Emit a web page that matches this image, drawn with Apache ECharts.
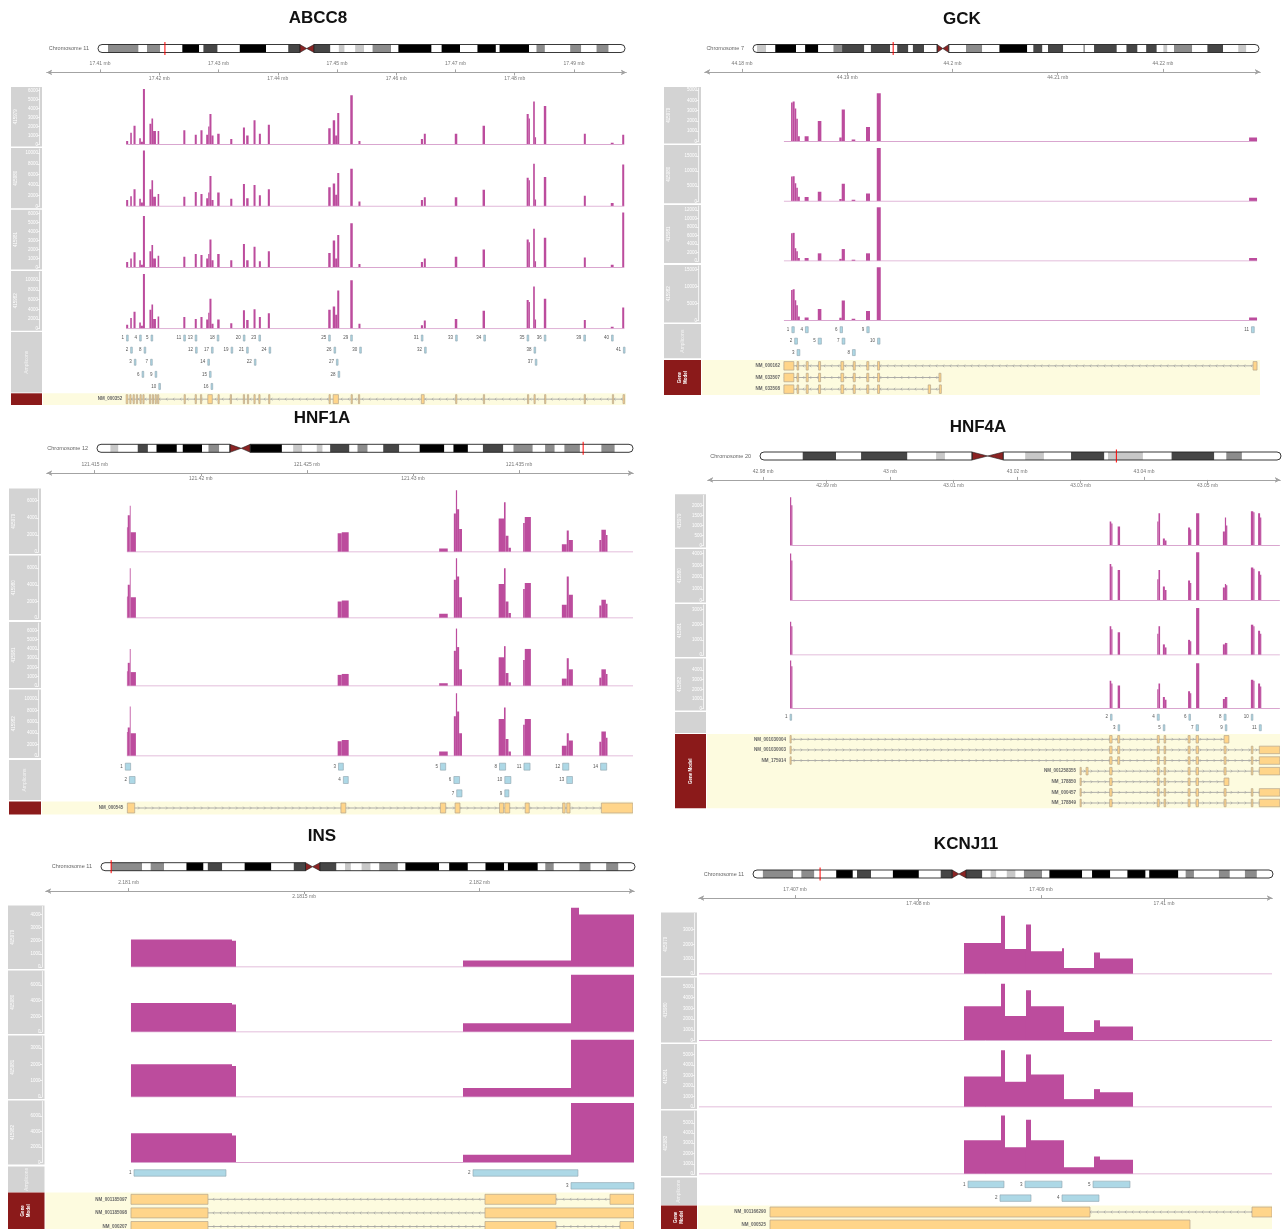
<!DOCTYPE html>
<html>
<head>
<meta charset="utf-8">
<script src="https://cdn.jsdelivr.net/npm/echarts@6/dist/echarts.min.js"></script>
<style>
  html, body { margin: 0; padding: 0; background: #fff; }
  #chart { width: 1287px; height: 1229px; }
</style>
</head>
<body>
<div id="chart"></div>
<script>
// ---------- shared ----------
const sampleNames = ['415979', '415980', '415981', '415982'];

// ideogram bands: edges in % of chromosome length, stain code per band
// 0 gneg, 1 gpos25, 2 gpos50, 3 gpos75, 4 gpos100, 5 acen (p side), 6 acen (q side)
const chr11Edges = [0, 1.9, 7.7, 9.3, 11.8, 16.0, 19.2, 20.0, 22.7, 26.9, 31.9, 36.1, 38.3, 39.6, 41.0, 44.1, 45.7, 46.8, 48.8, 50.5, 52.1, 55.6, 57.0, 63.3, 65.2, 68.7, 72.0, 75.5, 76.2, 81.8, 83.2, 84.8, 89.6, 91.7, 94.6, 96.9, 100];
const chr11Stain = [0, 2, 0, 2, 0, 4, 0, 3, 0, 4, 0, 3, 5, 6, 3, 0, 1, 0, 1, 0, 2, 0, 4, 0, 4, 0, 4, 0, 4, 0, 2, 0, 2, 0, 2, 0];
const chr7Edges = [0, 0.8, 2.6, 4.4, 8.5, 10.3, 12.9, 15.9, 17.6, 22.0, 23.3, 27.1, 28.5, 30.7, 31.6, 33.8, 36.4, 37.5, 38.7, 42.1, 45.3, 48.7, 54.2, 55.4, 57.2, 58.3, 61.3, 65.3, 65.6, 67.4, 71.9, 73.8, 76.0, 77.7, 79.8, 81.1, 81.9, 83.2, 86.8, 89.8, 92.9, 95.9, 97.5, 100];
const chr7Stain = [0, 1, 0, 4, 0, 4, 0, 2, 3, 0, 3, 0, 3, 0, 3, 0, 5, 6, 0, 2, 0, 4, 0, 3, 0, 3, 0, 2, 0, 3, 0, 3, 0, 3, 0, 1, 0, 2, 0, 3, 0, 1, 0];
const chr12Edges = [0, 2.5, 4.0, 7.6, 9.5, 11.1, 14.9, 16.0, 19.6, 20.8, 22.8, 24.8, 26.9, 28.6, 34.5, 36.6, 38.3, 41.0, 42.1, 43.5, 47.1, 48.6, 50.5, 53.4, 56.4, 60.2, 64.8, 66.5, 69.2, 72.0, 75.8, 77.7, 81.3, 83.6, 85.4, 87.2, 90.1, 94.1, 96.6, 100];
const chr12Stain = [0, 1, 0, 3, 0, 4, 0, 4, 0, 2, 0, 5, 6, 4, 0, 1, 0, 1, 0, 3, 0, 2, 0, 3, 0, 4, 0, 4, 0, 3, 0, 2, 0, 2, 0, 2, 0, 2, 0];
const chr20Edges = [0, 8.2, 14.6, 19.4, 28.3, 33.8, 35.5, 40.7, 43.7, 46.7, 50.9, 54.5, 59.7, 66.1, 66.8, 73.5, 79.0, 87.2, 89.5, 92.5, 100];
const chr20Stain = [0, 3, 0, 3, 0, 1, 0, 5, 6, 0, 1, 0, 3, 0, 1, 0, 3, 0, 2, 0];

// ---------- ABCC8 (positions in kb) ----------
const abcc8Start = [17414.41, 17415.10, 17415.65, 17416.62, 17416.89, 17417.24, 17418.34, 17418.68, 17418.96, 17419.72, 17424.06, 17425.99, 17426.95, 17427.92, 17428.26, 17428.47, 17428.81, 17429.78, 17431.98, 17434.12, 17434.67, 17435.91, 17436.81, 17438.32, 17448.52, 17449.28, 17449.69, 17450.04, 17452.24, 17453.62, 17464.16, 17464.65, 17469.88, 17474.57, 17482.01, 17482.36, 17483.11, 17483.39, 17484.91, 17491.66, 17496.21, 17498.14];
const abcc8End = [17414.75, 17415.37, 17416.00, 17416.89, 17417.24, 17417.58, 17418.68, 17418.96, 17419.44, 17419.99, 17424.40, 17426.33, 17427.30, 17428.26, 17428.47, 17428.81, 17429.16, 17430.19, 17432.33, 17434.46, 17435.08, 17436.25, 17437.15, 17438.67, 17448.93, 17449.69, 17450.04, 17450.38, 17452.66, 17453.96, 17464.51, 17464.99, 17470.30, 17474.98, 17482.36, 17482.56, 17483.39, 17483.60, 17485.32, 17492.00, 17496.69, 17498.48];
const abcc8Cov1 = [400, 1300, 2100, 700, 300, 6200, 2300, 2900, 1500, 1500, 1600, 1100, 1600, 1100, 2000, 3400, 1000, 1200, 600, 1900, 1000, 2700, 1200, 2200, 1800, 2700, 1000, 3500, 5500, 400, 600, 1200, 1200, 2100, 3400, 2900, 4800, 800, 4300, 1200, 200, 1100];
const abcc8Cov2 = [1200, 1900, 3200, 1400, 700, 10500, 3200, 4900, 1800, 2300, 1800, 2700, 2300, 1500, 2600, 5700, 1200, 2600, 1400, 4200, 1500, 4000, 2100, 3200, 3600, 4300, 2200, 6300, 7100, 900, 1200, 1700, 1700, 3100, 5400, 4900, 8000, 1300, 5500, 2000, 600, 7900];
const abcc8Cov3 = [600, 1000, 1700, 800, 300, 5700, 1800, 2500, 1000, 1300, 1200, 1500, 1400, 1000, 1500, 3100, 800, 1500, 800, 2600, 800, 2300, 700, 1800, 1600, 3000, 1000, 3600, 4900, 400, 600, 1000, 1200, 2000, 3100, 2800, 4300, 700, 3300, 1100, 300, 6100];
const abcc8Cov4 = [800, 2200, 3500, 1300, 600, 11300, 3900, 5000, 2000, 2500, 2400, 2000, 2400, 1900, 3300, 6200, 1000, 1900, 1100, 3800, 1800, 4000, 2400, 3200, 3900, 4600, 2900, 7900, 10000, 1000, 700, 1700, 2000, 3700, 5900, 5500, 8700, 1900, 6200, 1800, 400, 4400];
const abcc8Base = [17414.41, 17498.48];
// amplicons 1..41
const abcc8AmpStart = [17414.48, 17415.17, 17415.79, 17416.68, 17418.61, 17417.10, 17418.54, 17417.44, 17419.30, 17419.92, 17424.13, 17426.12, 17426.06, 17428.19, 17428.47, 17428.74, 17428.81, 17429.78, 17432.12, 17434.19, 17434.74, 17436.05, 17436.81, 17438.53, 17448.59, 17449.49, 17449.90, 17450.18, 17452.31, 17453.83, 17464.23, 17464.78, 17470.02, 17474.78, 17482.08, 17484.98, 17483.46, 17483.25, 17491.66, 17496.34, 17498.34];
const abcc8AmpEnd = [17414.76, 17415.45, 17416.07, 17416.96, 17418.89, 17417.38, 17418.82, 17417.72, 17419.58, 17420.20, 17424.41, 17426.40, 17426.34, 17428.47, 17428.75, 17429.02, 17429.09, 17430.06, 17432.40, 17434.47, 17435.02, 17436.33, 17437.09, 17438.81, 17448.87, 17449.77, 17450.18, 17450.46, 17452.59, 17454.11, 17464.51, 17465.06, 17470.30, 17475.06, 17482.36, 17485.26, 17483.74, 17483.53, 17491.94, 17496.62, 17498.62];
const abcc8AmpRow = [0, 1, 2, 0, 0, 3, 2, 1, 3, 4, 0, 1, 0, 2, 3, 4, 1, 0, 1, 0, 1, 2, 0, 1, 0, 1, 2, 3, 0, 1, 0, 1, 0, 0, 0, 0, 2, 1, 0, 0, 1];
const abcc8TxNames = ['NM_000352'];
const abcc8ExStart = [[17414.410, 17415.030, 17415.582, 17416.133, 17416.753, 17417.236, 17418.338, 17418.820, 17419.303, 17419.716, 17424.195, 17426.056, 17426.952, 17428.192, 17429.915, 17431.982, 17434.187, 17434.877, 17435.979, 17436.806, 17438.460, 17448.659, 17449.348, 17452.380, 17453.620, 17464.232, 17470.021, 17474.707, 17482.149, 17483.252, 17485.043, 17491.727, 17496.482, 17498.274]];
const abcc8ExEnd = [[17414.686, 17415.237, 17415.788, 17416.340, 17416.960, 17417.442, 17418.545, 17419.027, 17419.510, 17419.923, 17424.402, 17426.263, 17427.159, 17428.950, 17430.122, 17432.189, 17434.394, 17435.083, 17436.186, 17437.013, 17438.667, 17448.866, 17450.244, 17452.587, 17453.827, 17464.715, 17470.228, 17474.913, 17482.356, 17483.458, 17485.250, 17491.934, 17496.689, 17498.549]];
const abcc8TicksTop = [17410, 17430, 17450, 17470, 17490];
const abcc8TicksBottom = [17420, 17440, 17460, 17480];
const abcc8YTicks = [[0, 1000, 2000, 3000, 4000, 5000, 6000], [0, 2000, 4000, 6000, 8000, 10000], [0, 1000, 2000, 3000, 4000, 5000, 6000], [0, 2000, 4000, 6000, 8000, 10000]];
const abcc8YMax = [6300, 10800, 6300, 11700];

// ---------- GCK ----------
const gckStart = [44184.659, 44184.811, 44185.000, 44185.152, 44185.303, 44185.947, 44187.197, 44189.242, 44189.470, 44190.417, 44191.780, 44192.803, 44228.182];
const gckEnd = [44184.811, 44185.000, 44185.152, 44185.303, 44185.492, 44186.326, 44187.538, 44189.470, 44189.773, 44190.758, 44192.159, 44193.182, 44228.939];
const gckCov1 = [3800, 3900, 3200, 2200, 500, 500, 2000, 400, 3100, 200, 1400, 4700, 400];
const gckCov2 = [8200, 8300, 6000, 4500, 1500, 1400, 3200, 800, 5800, 500, 2600, 17600, 1200];
const gckCov3 = [6500, 6600, 3000, 2300, 700, 700, 1800, 500, 2800, 300, 1800, 12600, 700];
const gckCov4 = [9000, 9200, 6000, 4500, 1200, 900, 3400, 800, 5900, 500, 2800, 15700, 900];
const gckBase = [44183.98, 44228.94];
const gckAmpStart = [44184.735, 44185.000, 44185.227, 44186.023, 44187.235, 44189.318, 44189.508, 44190.492, 44191.856, 44192.879, 44228.409];
const gckAmpEnd = [44184.962, 44185.265, 44185.492, 44186.288, 44187.538, 44189.545, 44189.773, 44190.758, 44192.083, 44193.106, 44228.674];
const gckAmpRow = [0, 1, 2, 0, 1, 0, 1, 2, 0, 1, 0];
const gckTxNames = ['NM_000162', 'NM_033507', 'NM_033508'];
const gckExStart = [
  [44183.977, 44185.227, 44186.098, 44187.273, 44189.394, 44190.568, 44191.856, 44192.879, 44228.561],
  [44183.977, 44185.227, 44186.098, 44187.273, 44189.394, 44190.568, 44191.856, 44192.879, 44198.712],
  [44183.977, 44185.227, 44186.098, 44187.273, 44189.394, 44190.568, 44191.856, 44192.879, 44197.689, 44198.750]
];
const gckExEnd = [
  [44184.924, 44185.379, 44186.288, 44187.462, 44189.659, 44190.758, 44192.045, 44193.068, 44228.939],
  [44184.924, 44185.379, 44186.288, 44187.462, 44189.659, 44190.758, 44192.045, 44193.068, 44198.902],
  [44184.924, 44185.379, 44186.288, 44187.462, 44189.659, 44190.758, 44192.045, 44193.068, 44197.917, 44198.939]
];
const gckTicksTop = [44180, 44200, 44220];
const gckTicksBottom = [44190, 44210];
const gckYTicks = [[0, 1000, 2000, 3000, 4000, 5000], [0, 5000, 10000, 15000], [0, 2000, 4000, 6000, 8000, 10000, 12000], [0, 5000, 10000, 15000]];
const gckYMax = [5200, 18300, 12900, 16100];

// ---------- HNF1A ----------
const hnf1aStart = [121416.518, 121416.556, 121416.652, 121416.691, 121426.450, 121426.642, 121431.234, 121431.926, 121432.022, 121432.079, 121432.175, 121434.039, 121434.289, 121434.365, 121434.500, 121435.192, 121435.269, 121437.017, 121437.247, 121437.343, 121438.784, 121438.880, 121439.092];
const hnf1aEnd = [121416.556, 121416.652, 121416.691, 121416.940, 121426.642, 121426.969, 121431.638, 121432.022, 121432.079, 121432.175, 121432.310, 121434.289, 121434.365, 121434.500, 121434.615, 121435.269, 121435.557, 121437.247, 121437.343, 121437.536, 121438.880, 121439.092, 121439.168];
const hnf1aCov1 = [2900, 4300, 5400, 2300, 2200, 2300, 400, 4500, 7200, 5000, 2700, 3900, 5800, 1900, 500, 3400, 4100, 900, 2500, 1400, 1400, 2600, 2000];
const hnf1aCov2 = [2600, 4000, 6000, 2500, 2000, 2100, 500, 4600, 7200, 5000, 2500, 4100, 6000, 2000, 600, 3500, 4200, 1600, 5000, 2800, 1500, 2200, 1700];
const hnf1aCov3 = [1600, 2500, 4000, 1500, 1200, 1300, 300, 3800, 6200, 4200, 1800, 3100, 4300, 1400, 400, 2800, 4000, 800, 3000, 1800, 900, 1800, 1300];
const hnf1aCov4 = [4200, 5000, 8700, 4000, 2600, 2800, 800, 7000, 11000, 7800, 4000, 6500, 8500, 3000, 800, 5500, 6500, 1800, 4000, 2700, 2500, 4300, 3200];
const hnf1aBase = [121416.518, 121440.37];
const hnf1aAmpStart = [121416.441, 121416.633, 121426.489, 121426.719, 121431.292, 121431.926, 121432.060, 121434.078, 121434.327, 121434.327, 121435.230, 121437.055, 121437.247, 121438.842];
const hnf1aAmpEnd = [121416.691, 121416.902, 121426.719, 121426.950, 121431.542, 121432.195, 121432.310, 121434.366, 121434.519, 121434.615, 121435.518, 121437.344, 121437.517, 121439.130];
const hnf1aAmpRow = [0, 1, 0, 1, 0, 1, 2, 0, 2, 1, 0, 0, 1, 0];
const hnf1aTxNames = ['NM_000545'];
const hnf1aExStart = [[121416.537, 121426.604, 121431.292, 121431.984, 121434.078, 121434.327, 121435.288, 121437.055, 121437.247, 121438.880]];
const hnf1aExEnd = [[121416.883, 121426.834, 121431.542, 121432.214, 121434.270, 121434.558, 121435.480, 121437.171, 121437.402, 121440.360]];
const hnf1aTicksTop = [121415, 121425, 121435];
const hnf1aTicksBottom = [121420, 121430];
const hnf1aYTicks = [[0, 2000, 4000, 6000], [0, 2000, 4000, 6000], [0, 1000, 2000, 3000, 4000, 5000, 6000], [0, 2000, 4000, 6000, 8000, 10000]];
const hnf1aYMax = [7300, 7400, 6800, 11500];

// ---------- HNF4A ----------
const hnf4aStart = [42984.223, 42984.412, 43034.584, 43034.836, 43035.845, 43042.085, 43042.274, 43042.967, 43043.282, 43046.938, 43047.253, 43048.198, 43052.421, 43052.737, 43052.926, 43056.834, 43057.212, 43057.968, 43058.283];
const hnf4aEnd = [42984.412, 42984.601, 43034.836, 43035.025, 43036.223, 43042.274, 43042.526, 43043.282, 43043.534, 43047.253, 43047.442, 43048.703, 43052.737, 43052.926, 43053.115, 43057.212, 43057.401, 43058.283, 43058.472];
const hnf4aCov1 = [2400, 2000, 1200, 1100, 950, 1200, 1600, 350, 250, 900, 800, 1600, 700, 1400, 1000, 1700, 1650, 1600, 1400];
const hnf4aCov2 = [4000, 3400, 3100, 2900, 2600, 1800, 2600, 1200, 900, 1700, 1500, 4100, 1100, 1400, 1300, 2800, 2700, 2500, 2200];
const hnf4aCov3 = [2200, 1900, 1900, 1700, 1500, 1400, 1900, 700, 500, 1000, 900, 3100, 700, 800, 800, 2000, 1900, 1600, 1400];
const hnf4aCov4 = [5000, 4400, 2900, 2600, 2400, 2000, 2600, 1200, 900, 1800, 1600, 4700, 1000, 1200, 1200, 3000, 2900, 2600, 2300];
const hnf4aBase = [42984.22, 43061.40];
const hnf4aAmpStart = [42984.223, 43034.710, 43035.908, 43042.085, 43043.030, 43047.064, 43048.198, 43052.611, 43052.800, 43056.897, 43058.157];
const hnf4aAmpEnd = [42984.412, 43034.962, 43036.160, 43042.400, 43043.282, 43047.316, 43048.577, 43052.926, 43053.052, 43057.149, 43058.472];
const hnf4aAmpRow = [0, 0, 1, 0, 1, 0, 1, 0, 1, 0, 1];
const hnf4aTxNames = ['NM_001030004', 'NM_001030003', 'NM_175914', 'NM_001258355', 'NM_178850', 'NM_000457', 'NM_178849'];
const hnf4aExStart = [
  [42984.223, 43034.584, 43035.845, 43042.085, 43043.156, 43046.938, 43048.198, 43052.611],
  [42984.223, 43034.584, 43035.845, 43042.085, 43043.156, 43046.938, 43048.198, 43052.611, 43056.897, 43058.157],
  [42984.223, 43034.584, 43035.845, 43042.085, 43043.156, 43046.938, 43048.198, 43052.611, 43056.897, 43058.157],
  [43029.920, 43030.865, 43034.584, 43042.085, 43043.156, 43046.938, 43048.198, 43052.611, 43056.897, 43058.157],
  [43029.920, 43034.584, 43042.085, 43043.156, 43046.938, 43048.198, 43052.611],
  [43029.920, 43034.584, 43042.085, 43043.156, 43046.938, 43048.198, 43052.611, 43056.897, 43058.157],
  [43029.920, 43034.584, 43042.085, 43043.156, 43046.938, 43048.198, 43052.611, 43056.897, 43058.157]
];
const hnf4aExEnd = [
  [42984.412, 43034.962, 43036.160, 43042.400, 43043.408, 43047.253, 43048.577, 43053.367],
  [42984.412, 43034.962, 43036.160, 43042.400, 43043.408, 43047.253, 43048.577, 43052.926, 43057.149, 43061.400],
  [42984.412, 43034.962, 43036.160, 43042.400, 43043.408, 43047.253, 43048.577, 43052.926, 43057.149, 43061.400],
  [43030.109, 43031.180, 43034.962, 43042.400, 43043.408, 43047.253, 43048.577, 43052.926, 43057.149, 43061.400],
  [43030.109, 43034.962, 43042.400, 43043.408, 43047.253, 43048.577, 43053.367],
  [43030.109, 43034.962, 43042.400, 43043.408, 43047.253, 43048.577, 43052.926, 43057.149, 43061.400],
  [43030.109, 43034.962, 43042.400, 43043.408, 43047.253, 43048.577, 43052.926, 43057.149, 43061.400]
];
const hnf4aTicksTop = [42980, 43000, 43020, 43040];
const hnf4aTicksBottom = [42990, 43010, 43030, 43050];
const hnf4aYTicks = [[0, 500, 1000, 1500, 2000], [0, 1000, 2000, 3000, 4000], [0, 1000, 2000, 3000], [0, 1000, 2000, 3000, 4000]];
const hnf4aYMax = [2500, 4300, 3300, 5100];

// ---------- INS ----------
const insStart = [2181.0068, 2181.2946, 2181.9527, 2182.2604, 2182.2832];
const insEnd = [2181.2946, 2181.3060, 2182.2604, 2182.2832, 2182.4399];
const insCov1 = [2100, 2000, 500, 4500, 4000];
const insCov2 = [3700, 3500, 1100, 7300, 7300];
const insCov3 = [2000, 1900, 550, 3500, 3500];
const insCov4 = [3800, 3500, 1000, 7700, 7700];
const insBase = [2181.0068, 2182.4399];
const insAmpStart = [2181.0154, 2181.9812, 2182.2604];
const insAmpEnd = [2181.2775, 2182.2803, 2182.4399];
const insAmpRow = [0, 0, 1];
const insTxNames = ['NM_001185097', 'NM_001185098', 'NM_000207'];
const insExStart = [[2181.0068, 2182.0154, 2182.3715], [2181.0068, 2182.0154], [2181.0068, 2182.0154, 2182.4000]];
const insExEnd = [[2181.2262, 2182.2177, 2182.4399], [2181.2262, 2182.4399], [2181.2262, 2182.2177, 2182.4399]];
const insTicksTop = [2181, 2182];
const insTicksBottom = [2181.5];
const insYTicks = [[0, 1000, 2000, 3000, 4000], [0, 2000, 4000, 6000], [0, 1000, 2000, 3000], [0, 2000, 4000, 6000]];
const insYMax = [4600, 7700, 3700, 7900];

// ---------- KCNJ11 ----------
const kcnj11Start = [17408.3740, 17408.6748, 17408.7073, 17408.8780, 17408.9187, 17409.1707, 17409.1870, 17409.4309, 17409.4797];
const kcnj11End = [17408.6748, 17408.7073, 17408.8780, 17408.9187, 17409.1707, 17409.1870, 17409.4309, 17409.4797, 17409.7480];
const kcnj11Cov1 = [2100, 3950, 1700, 3350, 1550, 1750, 400, 1450, 1050];
const kcnj11Cov2 = [3200, 5300, 2300, 4700, 3200, 3200, 800, 1900, 1300];
const kcnj11Cov3 = [2900, 5400, 2400, 5000, 3100, 3100, 750, 1700, 1400];
const kcnj11Cov4 = [3300, 5700, 2600, 5300, 3300, 3300, 650, 1700, 1400];
const kcnj11Base = [17406.2195, 17410.878];
const kcnj11AmpStart = [17408.4065, 17408.6667, 17408.8699, 17409.1707, 17409.4228];
const kcnj11AmpEnd = [17408.6992, 17408.9187, 17409.1707, 17409.4715, 17409.7236];
const kcnj11AmpRow = [0, 1, 0, 1, 0];
const kcnj11TxNames = ['NM_001166290', 'NM_000525'];
const kcnj11ExStart = [[17406.7967, 17410.7154], [17406.7967]];
const kcnj11ExEnd = [[17409.3984, 17410.878], [17410.2114]];
const kcnj11TicksTop = [17407, 17409];
const kcnj11TicksBottom = [17408, 17410];
const kcnj11YTicks = [[0, 1000, 2000, 3000], [0, 1000, 2000, 3000, 4000, 5000], [0, 1000, 2000, 3000, 4000, 5000], [0, 1000, 2000, 3000, 4000, 5000]];
const kcnj11YMax = [4100, 5800, 5900, 6100];

// ---------- panel layout ----------
const panels = [
  { name: 'ABCC8', chr: 11, edges: chr11Edges, stain: chr11Stain, marker: 12.7, strand: -1,
    title: [318, 18], ideo: [98, 625, 48.5], axisY: 70, gray: [11, 42], data: [47, 626], range: [17401.05, 17498.78],
    cov: [[87, 146.5], [148, 208.3], [209.7, 269.5], [271, 330.7]], amp: [332, 392.5], gene: [393.3, 405],
    ampRows: 5, ampH: 6, exH: 9,
    start: abcc8Start, end: abcc8End, vals: [abcc8Cov1, abcc8Cov2, abcc8Cov3, abcc8Cov4], base: abcc8Base,
    ampStart: abcc8AmpStart, ampEnd: abcc8AmpEnd, ampRow: abcc8AmpRow,
    tx: abcc8TxNames, exStart: abcc8ExStart, exEnd: abcc8ExEnd,
    ticksTop: abcc8TicksTop, ticksBottom: abcc8TicksBottom, yTicks: abcc8YTicks, yMax: abcc8YMax },
  { name: 'GCK', chr: 7, edges: chr7Edges, stain: chr7Stain, marker: 27.7, strand: -1,
    title: [962, 19], ideo: [753, 1259, 48.5], axisY: 69.5, gray: [664, 701], data: [705, 1260], range: [44176.48, 44229.22],
    cov: [[87, 143.5], [145, 203.3], [205, 263], [265, 322.5]], amp: [324, 358.3], gene: [360, 395],
    ampRows: 3, ampH: 6, exH: 8.5,
    start: gckStart, end: gckEnd, vals: [gckCov1, gckCov2, gckCov3, gckCov4], base: gckBase,
    ampStart: gckAmpStart, ampEnd: gckAmpEnd, ampRow: gckAmpRow,
    tx: gckTxNames, exStart: gckExStart, exEnd: gckExEnd,
    ticksTop: gckTicksTop, ticksBottom: gckTicksBottom, yTicks: gckYTicks, yMax: gckYMax },
  { name: 'HNF1A', chr: 12, edges: chr12Edges, stain: chr12Stain, marker: 90.7, strand: 1,
    title: [322, 418], ideo: [97, 633, 448.3], axisY: 470.7, gray: [9, 41], data: [47, 633], range: [121412.75, 121440.37],
    cov: [[488.5, 554], [555.5, 620], [622, 688], [689.5, 758]], amp: [760, 800], gene: [801.5, 814.5],
    ampRows: 3, ampH: 7, exH: 10,
    start: hnf1aStart, end: hnf1aEnd, vals: [hnf1aCov1, hnf1aCov2, hnf1aCov3, hnf1aCov4], base: hnf1aBase,
    ampStart: hnf1aAmpStart, ampEnd: hnf1aAmpEnd, ampRow: hnf1aAmpRow,
    tx: hnf1aTxNames, exStart: hnf1aExStart, exEnd: hnf1aExEnd,
    ticksTop: hnf1aTicksTop, ticksBottom: hnf1aTicksBottom, yTicks: hnf1aYTicks, yMax: hnf1aYMax },
  { name: 'HNF4A', chr: 20, edges: chr20Edges, stain: chr20Stain, marker: 68.4, strand: 1,
    title: [978, 427], ideo: [760, 1281, 456], axisY: 477.5, gray: [675, 706], data: [708, 1280], range: [42971.30, 43061.42],
    cov: [[494.3, 547.5], [549, 602.5], [604, 657], [658.5, 710.5]], amp: [712, 733], gene: [734, 808.3],
    ampRows: 2, ampH: 6, exH: 7.5,
    start: hnf4aStart, end: hnf4aEnd, vals: [hnf4aCov1, hnf4aCov2, hnf4aCov3, hnf4aCov4], base: hnf4aBase,
    ampStart: hnf4aAmpStart, ampEnd: hnf4aAmpEnd, ampRow: hnf4aAmpRow,
    tx: hnf4aTxNames, exStart: hnf4aExStart, exEnd: hnf4aExEnd,
    ticksTop: hnf4aTicksTop, ticksBottom: hnf4aTicksBottom, yTicks: hnf4aYTicks, yMax: hnf4aYMax },
  { name: 'INS', chr: 11, edges: chr11Edges, stain: chr11Stain, marker: 1.9, strand: -1,
    title: [322, 836], ideo: [101, 635, 866.7], axisY: 888.7, gray: [8, 44.5], data: [46, 634], range: [2180.7647, 2182.4399],
    cov: [[905.5, 969], [970.5, 1034], [1035.5, 1099], [1100.5, 1164.5]], amp: [1166.5, 1192.3], gene: [1192.5, 1233.3],
    ampRows: 2, ampH: 6.5, exH: 10,
    start: insStart, end: insEnd, vals: [insCov1, insCov2, insCov3, insCov4], base: insBase,
    ampStart: insAmpStart, ampEnd: insAmpEnd, ampRow: insAmpRow,
    tx: insTxNames, exStart: insExStart, exEnd: insExEnd,
    ticksTop: insTicksTop, ticksBottom: insTicksBottom, yTicks: insYTicks, yMax: insYMax },
  { name: 'KCNJ11', chr: 11, edges: chr11Edges, stain: chr11Stain, marker: 12.9, strand: -1,
    title: [966, 844], ideo: [753, 1273, 874], axisY: 895.7, gray: [661, 697], data: [699, 1272], range: [17406.2195, 17410.878],
    cov: [[912.5, 976], [977.5, 1042.5], [1044, 1109], [1110.5, 1176]], amp: [1177.5, 1205], gene: [1205.5, 1231.5],
    ampRows: 2, ampH: 6.5, exH: 10,
    start: kcnj11Start, end: kcnj11End, vals: [kcnj11Cov1, kcnj11Cov2, kcnj11Cov3, kcnj11Cov4], base: kcnj11Base,
    ampStart: kcnj11AmpStart, ampEnd: kcnj11AmpEnd, ampRow: kcnj11AmpRow,
    tx: kcnj11TxNames, exStart: kcnj11ExStart, exEnd: kcnj11ExEnd,
    ticksTop: kcnj11TicksTop, ticksBottom: kcnj11TicksBottom, yTicks: kcnj11YTicks, yMax: kcnj11YMax }
];

// ---------- styles ----------
const FONT = '"Liberation Sans", Arial, Helvetica, sans-serif';
const COV = '#bc4c9d';
const COV_BASE = '#d9a6cf';
const PANEL_GRAY = '#d3d3d3';
const GENE_RED = '#8b1a1a';
const GENE_BG = '#fdfbdf';
const EXON = '#ffd58a';
const EXON_EDGE = '#b5a58c';
const INTRON = '#9a9a9a';
const AMP = '#add8e6';
const AMP_EDGE = '#8fa3ad';
const AXIS_COL = '#a3a3a3';
const STAIN = ['#ffffff', '#c8c8c8', '#8c8c8c', '#464646', '#000000', '#8b2323', '#8b2323'];

const option = { animation: false, backgroundColor: '#fff', grid: [], xAxis: [], yAxis: [], series: [], graphic: { elements: [] } };
const G = option.graphic.elements;

// one grid with one hidden x axis; returns axis indices for series
function addGrid(left, right, top, bottom, xMin, xMax, yOpt) {
  const gi = option.grid.length;
  option.grid.push({ left: left, top: top, width: right - left, height: bottom - top, outerBoundsMode: 'none' });
  const xi = option.xAxis.length, yi = option.yAxis.length;
  option.xAxis.push({ gridIndex: gi, type: 'value', min: xMin, max: xMax, show: false });
  option.yAxis.push(Object.assign({ gridIndex: gi, type: 'value' }, yOpt));
  return { xAxisIndex: xi, yAxisIndex: yi };
}
const mbLabel = v => (+(v / 1000).toFixed(4)) + ' mb';

function addPanel(p) {
  // title and chromosome label
  G.push({ type: 'text', x: p.title[0], y: p.title[1], z: 10,
    style: { text: p.name, font: 'bold 17px ' + FONT, fill: '#111', textAlign: 'center', textVerticalAlign: 'middle' } });
  G.push({ type: 'text', x: p.ideo[0] - 9, y: p.ideo[2], z: 10,
    style: { text: 'Chromosome ' + p.chr, font: '5.5px ' + FONT, fill: '#666', textAlign: 'right', textVerticalAlign: 'middle' } });

  // ideogram
  let ax = addGrid(p.ideo[0], p.ideo[1], p.ideo[2] - 4, p.ideo[2] + 4, 0, 100, { min: 0, max: 1, show: false });
  const bands = p.stain.map((s, i) => [p.edges[i], p.edges[i + 1], s]);
  option.series.push(Object.assign({ type: 'custom', silent: true, data: bands,
    renderItem(params, api) {
      const a = api.coord([api.value(0), 1]), b = api.coord([api.value(1), 0]);
      const s = api.value(2), mid = (a[1] + b[1]) / 2;
      if (s === 5) return { type: 'polygon', shape: { points: [[a[0], a[1]], [b[0], mid], [a[0], b[1]]] }, style: { fill: STAIN[5], stroke: '#222', lineWidth: 0.6 } };
      if (s === 6) return { type: 'polygon', shape: { points: [[a[0], mid], [b[0], a[1]], [b[0], b[1]]] }, style: { fill: STAIN[6], stroke: '#222', lineWidth: 0.6 } };
      return { type: 'rect', shape: { x: a[0], y: a[1], width: b[0] - a[0], height: b[1] - a[1] }, style: { fill: STAIN[s] } };
    } }, ax));
  const cenS = p.edges[p.stain.indexOf(5)], cenE = p.edges[p.stain.indexOf(6) + 1];
  option.series.push(Object.assign({ type: 'custom', silent: true, data: [[0, cenS, 0], [cenE, 100, 1]],
    renderItem(params, api) {
      const a = api.coord([api.value(0), 1]), b = api.coord([api.value(1), 0]);
      const r = api.value(2) === 0 ? [4, 0, 0, 4] : [0, 4, 4, 0];
      return { type: 'rect', shape: { x: a[0], y: a[1], width: b[0] - a[0], height: b[1] - a[1], r: r },
        style: { fill: 'none', stroke: '#222', lineWidth: 0.9 } };
    } }, ax));
  option.series.push(Object.assign({ type: 'custom', silent: true, data: [[p.marker]],
    renderItem(params, api) {
      const a = api.coord([api.value(0), 1]), b = api.coord([api.value(0), 0]);
      return { type: 'line', shape: { x1: a[0], y1: a[1] - 2.5, x2: b[0], y2: b[1] + 2.5 }, style: { stroke: '#ff0000', lineWidth: 1 } };
    } }, ax));

  // genome axis: two x axes on one thin grid (labels above and below)
  const gi = option.grid.length;
  option.grid.push({ left: p.data[0], top: p.axisY, width: p.data[1] - p.data[0], height: 2.4, outerBoundsMode: 'none' });
  const line = { show: true, lineStyle: { color: AXIS_COL, width: 1.2 }, symbol: ['arrow', 'arrow'], symbolSize: [4, 5] };
  ['top', 'bottom'].forEach(pos => {
    const ticks = pos === 'top' ? p.ticksTop : p.ticksBottom;
    option.xAxis.push({ gridIndex: gi, type: 'value', min: p.range[0], max: p.range[1], position: pos,
      axisLine: line, splitLine: { show: false },
      axisTick: { show: true, customValues: ticks, length: 3, lineStyle: { color: AXIS_COL } },
      axisLabel: { show: true, customValues: ticks, formatter: mbLabel, fontSize: 5, color: '#777', margin: 3.5, fontFamily: FONT } });
  });
  option.yAxis.push({ gridIndex: gi, type: 'value', min: 0, max: 1, show: false });

  // coverage tracks
  p.cov.forEach((t, j) => {
    G.push({ type: 'rect', z: -5, shape: { x: p.gray[0], y: t[0], width: p.gray[1] - p.gray[0], height: t[1] - t[0] }, style: { fill: PANEL_GRAY } });
    G.push({ type: 'text', z: 10, x: p.gray[0] + 5, y: (t[0] + t[1]) / 2, rotation: Math.PI / 2,
      style: { text: sampleNames[j], font: '4.5px ' + FONT, fill: '#fff', textAlign: 'center', textVerticalAlign: 'middle' } });
    const cx = addGrid(p.data[0], p.data[1], t[0] + 1, t[1] - 2, p.range[0], p.range[1], {
      min: 0, max: p.yMax[j], position: 'left', offset: p.data[0] - (p.gray[1] - 2.5),
      axisLine: { show: true, lineStyle: { color: '#ffffff', width: 0.7 } },
      axisTick: { show: true, customValues: p.yTicks[j], length: 2, lineStyle: { color: '#ffffff', width: 0.7 } },
      axisLabel: { show: true, customValues: p.yTicks[j], formatter: v => String(v), fontSize: 4.5, color: '#ffffff', margin: 1.5, fontFamily: FONT },
      splitLine: { show: false } });
    option.series.push(Object.assign({ type: 'line', silent: true, symbol: 'none',
      data: [[p.base[0], 0], [p.base[1], 0]], lineStyle: { color: COV_BASE, width: 1 } }, cx));
    option.series.push(Object.assign({ type: 'custom', silent: true, clip: true,
      data: p.start.map((s, i) => [s, p.end[i], p.vals[j][i]]),
      renderItem(params, api) {
        const a = api.coord([api.value(0), api.value(2)]), b = api.coord([api.value(1), 0]);
        return { type: 'rect', shape: { x: a[0], y: a[1], width: Math.max(b[0] - a[0], 0.8), height: b[1] - a[1] }, style: { fill: COV } };
      } }, cx));
  });

  // amplicons
  G.push({ type: 'rect', z: -5, shape: { x: p.gray[0], y: p.amp[0], width: p.gray[1] - p.gray[0], height: p.amp[1] - p.amp[0] }, style: { fill: PANEL_GRAY } });
  if (p.amp[1] - p.amp[0] > 24) {
    G.push({ type: 'text', z: 10, x: (p.gray[0] + p.gray[1]) / 2, y: (p.amp[0] + p.amp[1]) / 2, rotation: Math.PI / 2,
      style: { text: 'Amplicons', font: '5px ' + FONT, fill: '#f4f4f4', textAlign: 'center', textVerticalAlign: 'middle' } });
  }
  ax = addGrid(p.data[0], p.data[1], p.amp[0], p.amp[1], p.range[0], p.range[1], { min: -0.5, max: p.ampRows - 0.5, inverse: true, show: false });
  const ampH = p.ampH;
  option.series.push(Object.assign({ type: 'custom', silent: true, clip: false,
    data: p.ampStart.map((s, i) => [s, p.ampEnd[i], p.ampRow[i], i + 1]),
    renderItem(params, api) {
      const a = api.coord([api.value(0), api.value(2)]), b = api.coord([api.value(1), api.value(2)]);
      return { type: 'group', children: [
        { type: 'rect', shape: { x: a[0], y: a[1] - ampH / 2, width: Math.max(b[0] - a[0], 1.6), height: ampH }, style: { fill: AMP, stroke: AMP_EDGE, lineWidth: 0.6 } },
        { type: 'text', style: { x: a[0] - 2.5, y: a[1], text: String(api.value(3)), font: '4.5px ' + FONT, fill: '#555', textAlign: 'right', textVerticalAlign: 'middle' } }
      ] };
    } }, ax));

  // gene model
  G.push({ type: 'rect', z: -5, shape: { x: p.gray[0], y: p.gene[0], width: p.gray[1] - p.gray[0], height: p.gene[1] - p.gene[0] }, style: { fill: GENE_RED } });
  G.push({ type: 'rect', z: -5, shape: { x: p.gray[1] + 1, y: p.gene[0], width: p.data[1] - p.gray[1] - 1, height: p.gene[1] - p.gene[0] }, style: { fill: GENE_BG } });
  const gh = Math.min(p.gene[1], 1229) - p.gene[0];
  if (gh > 20) {
    G.push({ type: 'text', z: 10, x: (p.gray[0] + p.gray[1]) / 2, y: p.gene[0] + gh / 2, rotation: Math.PI / 2,
      style: { text: gh > 60 ? 'Gene Model' : 'Gene\nModel', font: 'bold 4.5px ' + FONT, fill: '#fff', textAlign: 'center', textVerticalAlign: 'middle', lineHeight: 6 } });
  }
  ax = addGrid(p.data[0], p.data[1], p.gene[0], p.gene[1], p.range[0], p.range[1], { min: -0.5, max: p.tx.length - 0.5, inverse: true, show: false });
  const strand = p.strand, exH = p.exH, names = p.tx;
  const txSpan = p.exStart.map((ex, r) => [ex[0], p.exEnd[r][p.exEnd[r].length - 1], r]);
  option.series.push(Object.assign({ type: 'custom', silent: true, clip: true, data: txSpan,
    renderItem(params, api) {
      const a = api.coord([api.value(0), api.value(2)]), b = api.coord([api.value(1), api.value(2)]);
      const y = a[1];
      const kids = [{ type: 'line', shape: { x1: a[0], y1: y, x2: b[0], y2: y }, style: { stroke: INTRON, lineWidth: 0.8 } }];
      for (let x = a[0] + 5; x < b[0] - 3; x += 7) {
        const pts = strand < 0 ? [[x + 1.3, y - 1.4], [x, y], [x + 1.3, y + 1.4]] : [[x - 1.3, y - 1.4], [x, y], [x - 1.3, y + 1.4]];
        kids.push({ type: 'polyline', shape: { points: pts }, style: { stroke: INTRON, lineWidth: 0.6, fill: 'none' } });
      }
      return { type: 'group', children: kids };
    } }, ax));
  const exData = [];
  p.exStart.forEach((ex, r) => ex.forEach((s, i) => exData.push([s, p.exEnd[r][i], r])));
  option.series.push(Object.assign({ type: 'custom', silent: true, clip: true, data: exData,
    renderItem(params, api) {
      const a = api.coord([api.value(0), api.value(2)]), b = api.coord([api.value(1), api.value(2)]);
      return { type: 'rect', shape: { x: a[0], y: a[1] - exH / 2, width: Math.max(b[0] - a[0], 1.2), height: exH },
        style: { fill: EXON, stroke: EXON_EDGE, lineWidth: 0.7 } };
    } }, ax));
  option.series.push(Object.assign({ type: 'custom', silent: true, clip: false, data: txSpan,
    renderItem(params, api) {
      const a = api.coord([api.value(0), api.value(2)]);
      return { type: 'text', style: { x: a[0] - 4, y: a[1], text: names[params.dataIndex], font: 'bold 4.5px ' + FONT, fill: '#666', textAlign: 'right', textVerticalAlign: 'middle' } };
    } }, ax));
}

panels.forEach(addPanel);

const chart = echarts.init(document.getElementById('chart'), null, { renderer: 'canvas' });
chart.setOption(option);
</script>
</body>
</html>
